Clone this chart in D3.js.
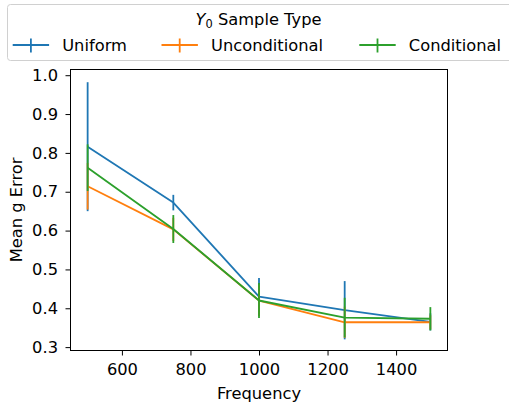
<!DOCTYPE html>
<html>
<head>
<meta charset="utf-8">
<script src="https://cdn.jsdelivr.net/npm/d3@7"></script>
<style>
  body { margin: 0; background: #fff; }
  text { font-family: "DejaVu Sans", sans-serif; fill: #000; }
</style>
</head>
<body>
<svg id="chart"></svg>
<script>
// data
let frequencies = [500, 750, 1000, 1250, 1500]
let seriesNames = ["Uniform", "Unconditional", "Conditional"]
let uniformMean = [0.816, 0.672, 0.430, 0.395, 0.365]
let uniformErr = [0.166, 0.020, 0.048, 0.075, 0.022]
let unconditionalMean = [0.714, 0.603, 0.420, 0.364, 0.364]
let unconditionalErr = [0.060, 0.030, 0.040, 0.040, 0.018]
let conditionalMean = [0.762, 0.604, 0.420, 0.376, 0.373]
let conditionalErr = [0.060, 0.036, 0.045, 0.051, 0.030]
let xTicks = [600, 800, 1000, 1200, 1400]
let yTicks = [0.3, 0.4, 0.5, 0.6, 0.7, 0.8, 0.9, 1.0]
let colors = ["#1f77b4", "#ff7f0e", "#2ca02c"]

let series = [
    {name: seriesNames[0], mean: uniformMean, err: uniformErr, color: colors[0]},
    {name: seriesNames[1], mean: unconditionalMean, err: unconditionalErr, color: colors[1]},
    {name: seriesNames[2], mean: conditionalMean, err: conditionalErr, color: colors[2]}
]

let fs = 16.3

let svg = d3.select("#chart").attr("width", 509).attr("height", 403)

function translate(x, y){
    return "translate(" + x + ", " + y + ")"
}

let plotLeft = 70.5, plotRight = 447.5, plotTop = 69.5, plotBottom = 350.5

let x = d3.scaleLinear().domain([450, 1550]).range([plotLeft, plotRight])
let y = d3.scaleLinear().domain([0.2913, 1.0147]).range([plotBottom, plotTop])

// lines and error bars
let line = d3.line().x(d => x(d[0])).y(d => y(d[1]))
series.forEach(s => {
    let pts = frequencies.map((f, i) => [f, s.mean[i], s.err[i]])
    svg.append("g").selectAll("line").data(pts)
        .enter().append("line")
        .attr("x1", d => x(d[0])).attr("x2", d => x(d[0]))
        .attr("y1", d => y(d[1] - d[2])).attr("y2", d => y(d[1] + d[2]))
        .attr("stroke", s.color).attr("stroke-width", 1.8)
    svg.append("path").datum(pts)
        .attr("d", line)
        .attr("fill", "none")
        .attr("stroke", s.color)
        .attr("stroke-width", 1.8)
        .attr("stroke-linejoin", "round")
})

// axes
let xAxis = d3.axisBottom(x).tickValues(xTicks).tickSize(5).tickPadding(8).tickFormat(d3.format("d"))
let yAxis = d3.axisLeft(y).tickValues(yTicks).tickSize(5).tickPadding(7.5).tickFormat(d3.format(".1f"))
let gx = svg.append("g").attr("transform", translate(0, plotBottom)).call(xAxis)
let gy = svg.append("g").attr("transform", translate(plotLeft, 0)).call(yAxis)
;[gx, gy].forEach(g => {
    g.select(".domain").remove()
    g.selectAll("line").attr("stroke", "#000").attr("stroke-width", 1)
    g.selectAll("text").attr("font-size", fs).attr("font-family", "DejaVu Sans").attr("fill", "#000")
})

svg.append("rect")
    .attr("x", plotLeft).attr("y", plotTop)
    .attr("width", plotRight - plotLeft).attr("height", plotBottom - plotTop)
    .attr("fill", "none").attr("stroke", "#000").attr("stroke-width", 1)

svg.append("text")
    .attr("x", (plotLeft + plotRight) / 2).attr("y", 398.5)
    .attr("text-anchor", "middle").attr("font-size", fs)
    .text("Frequency")

svg.append("text")
    .attr("transform", translate(22, (plotTop + plotBottom) / 2) + " rotate(-90)")
    .attr("text-anchor", "middle").attr("font-size", fs)
    .text("Mean g Error")

// legend
let lg = svg.append("g")
lg.append("rect")
    .attr("x", 7.5).attr("y", 4.5).attr("width", 510).attr("height", 56)
    .attr("rx", 3).attr("fill", "#fff").attr("fill-opacity", 0.8)
    .attr("stroke", "#d0d0d0").attr("stroke-width", 1)

let title = lg.append("text")
    .attr("x", 258.5).attr("y", 25)
    .attr("text-anchor", "middle").attr("font-size", fs)
title.append("tspan").attr("font-style", "italic").text("Y")
title.append("tspan").attr("font-size", fs * 0.7).attr("dy", 3).text("0")
title.append("tspan").attr("dy", -3).text(" Sample Type")

let handleX = [12.7, 161.5, 359.3]
series.forEach((s, i) => {
    let hx = handleX[i]
    lg.append("line")
        .attr("x1", hx).attr("x2", hx + 36.4).attr("y1", 45).attr("y2", 45)
        .attr("stroke", s.color).attr("stroke-width", 1.8)
    lg.append("line")
        .attr("x1", hx + 18.2).attr("x2", hx + 18.2).attr("y1", 38.5).attr("y2", 52.5)
        .attr("stroke", s.color).attr("stroke-width", 1.8)
    lg.append("text")
        .attr("x", hx + 49.5).attr("y", 50.8)
        .attr("font-size", fs)
        .text(s.name)
})
</script>
</body>
</html>
